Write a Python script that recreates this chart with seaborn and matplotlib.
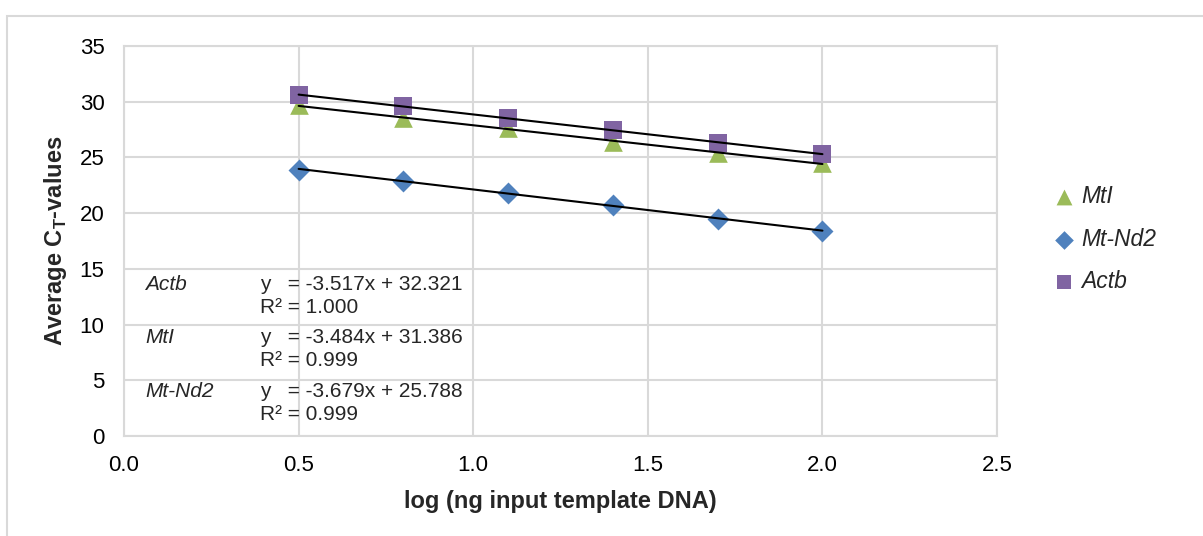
import numpy as np
import pandas as pd
import matplotlib
matplotlib.use("Agg")
import matplotlib.pyplot as plt
import seaborn as sns
from matplotlib.patches import Rectangle

# ---- data ----
log_input = [0.5, 0.8, 1.1, 1.4, 1.7, 2.0]
genes = ["MtI", "Mt-Nd2", "Actb"]
ct_mti = [29.7, 28.5, 27.6, 26.4, 25.4, 24.5]
ct_mtnd2 = [23.9, 22.9, 21.8, 20.7, 19.5, 18.4]
ct_actb = [30.6, 29.6, 28.5, 27.5, 26.3, 25.3]
eq_genes = ["Actb", "MtI", "Mt-Nd2"]
eq_texts = ["y   = -3.517x + 32.321", "y   = -3.484x + 31.386", "y   = -3.679x + 25.788"]
r2_texts = ["R² = 1.000", "R² = 0.999", "R² = 0.999"]
x_ticks = [0.0, 0.5, 1.0, 1.5, 2.0, 2.5]
y_ticks = [0, 5, 10, 15, 20, 25, 30, 35]

df = pd.DataFrame({
    "x": log_input * 3,
    "ct": ct_mti + ct_mtnd2 + ct_actb,
    "gene": [g for g in genes for _ in log_input],
})

palette = {"MtI": "#9BBB59", "Mt-Nd2": "#4F81BD", "Actb": "#8064A2"}
markers = {"MtI": "^", "Mt-Nd2": "D", "Actb": "s"}
sizes_pt = {"MtI": 180, "Mt-Nd2": 125, "Actb": 160}

sns.set_style("whitegrid", {"grid.color": "#D9D9D9", "axes.edgecolor": "#D9D9D9"})
plt.rcParams["font.family"] = ["Liberation Sans", "DejaVu Sans"]
plt.rcParams["mathtext.fontset"] = "custom"
plt.rcParams["mathtext.rm"] = "Liberation Sans:bold"
plt.rcParams["mathtext.bf"] = "Liberation Sans:bold"

fig = plt.figure(figsize=(12.03, 5.36), dpi=100)
ax = fig.add_axes([0.1031, 0.1866, 0.8288 - 0.1031, 0.9142 - 0.1866])

for g in genes:
    sub = df[df.gene == g]
    sns.scatterplot(data=sub, x="x", y="ct", color=palette[g], marker=markers[g],
                    s=sizes_pt[g], linewidth=0, ax=ax, label=g, zorder=3)
for g in genes:
    sub = df[df.gene == g]
    sns.regplot(data=sub, x="x", y="ct", scatter=False, ci=None, ax=ax,
                color="black", line_kws={"lw": 1.5, "zorder": 4})

ax.set_xlim(0, 2.5)
ax.set_ylim(0, 35)
ax.set_xticks(x_ticks)
ax.set_yticks(y_ticks)
ax.set_xticklabels([f"{v:.1f}" for v in x_ticks])
ax.set_yticklabels([str(v) for v in y_ticks])
ax.tick_params(axis="both", length=0, labelsize=16, colors="black", pad=14)
for s in ax.spines.values():
    s.set_color("#D9D9D9")
    s.set_linewidth(1.5)
ax.grid(True, color="#D9D9D9", lw=1.5)
ax.set_axisbelow(True)

ax.set_xlabel("log (ng input template DNA)", fontsize=17, fontweight="bold", labelpad=10)
ax.set_ylabel(r"Average C$_\mathregular{T}$-values", fontsize=17, fontweight="bold", labelpad=8)

# equation annotations
eq_y = [13.55, 8.8, 3.95]
for g, eq, r2, yv in zip(eq_genes, eq_texts, r2_texts, eq_y):
    ax.text(0.06, yv, g, fontsize=15, style="italic", va="center", ha="left")
    ax.text(0.39, yv, eq, fontsize=15, va="center", ha="left")
    ax.text(0.39, yv - 2.0, r2, fontsize=15, va="center", ha="left")

# legend
handles, labels = ax.get_legend_handles_labels()
order = [labels.index(g) for g in genes]
leg = ax.legend([handles[i] for i in order], [labels[i] for i in order],
                loc="center left", bbox_to_anchor=(1.063, 0.505), frameon=False,
                fontsize=16.5, handlelength=1.0, handletextpad=0.27,
                borderpad=0, borderaxespad=0, labelspacing=0.85, markerscale=0.85)
for t in leg.get_texts():
    t.set_style("italic")

# outer chart border (top and left visible)
fig.add_artist(Rectangle((7 / 1203, -0.05), 1.2, 1.05 - 16 / 536, transform=fig.transFigure,
                         fill=False, edgecolor="#D9D9D9", lw=1.5))

fig.savefig("out.png", dpi=100)
